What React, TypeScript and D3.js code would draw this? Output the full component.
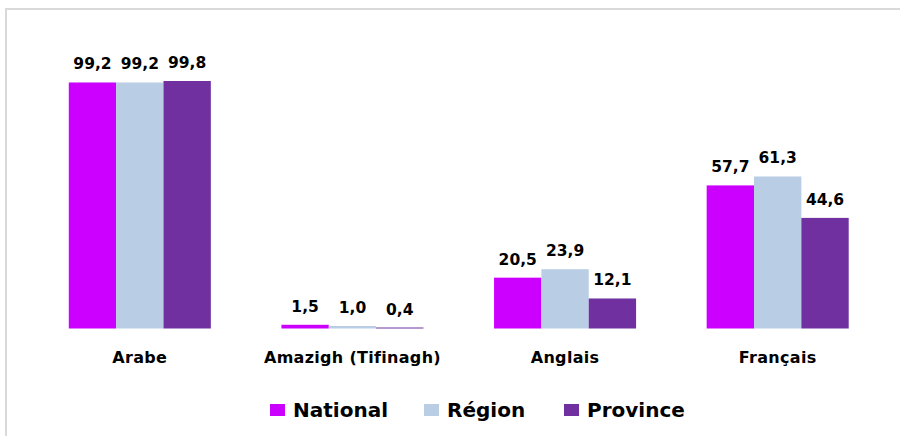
import * as d3 from 'd3';

const categories = ['Arabe', 'Amazigh (Tifinagh)', 'Anglais', 'Français'];
const seriesNames = ['National', 'Région', 'Province'];
const national = [99.2, 1.5, 20.5, 57.7];
const region = [99.2, 1.0, 23.9, 61.3];
const province = [99.8, 0.4, 12.1, 44.6];
const seriesColors = ['#CC00FF', '#B9CDE5', '#7030A0'];

const W = 900;
const H = 436;
const FONT = 'DejaVu Sans, Verdana, sans-serif';

export default function App() {
  const values = [national, region, province];

  const x = d3.scaleBand<string>()
    .domain(categories)
    .range([33.5, 884])
    .paddingInner(0.332)
    .paddingOuter(0.166);

  const xs = d3.scaleBand<string>()
    .domain(seriesNames)
    .range([0, x.bandwidth()]);

  const y = d3.scaleLinear().domain([0, 100]).range([328.5, 80.5]);

  const fmt = (v: number) => v.toFixed(1).replace('.', ',');

  const legendX = [270, 424, 564];

  return (
    <svg width={W} height={H} style={{ position: 'absolute', left: 0, top: 0, background: '#fff' }}>
      {/* frame: top and left edges only */}
      <line x1={5} y1={9} x2={W} y2={9} stroke="#d9d9d9" strokeWidth={2} />
      <line x1={6} y1={8} x2={6} y2={H} stroke="#d9d9d9" strokeWidth={2} />

      {categories.map((cat, ci) => (
        <g key={cat} transform={`translate(${x(cat)},0)`}>
          {seriesNames.map((s, si) => {
            const v = values[si][ci];
            const bx = xs(s) ?? 0;
            return (
              <g key={s}>
                <rect
                  x={bx}
                  y={y(v)}
                  width={xs.bandwidth()}
                  height={y(0) - y(v)}
                  fill={seriesColors[si]}
                />
                <text
                  x={bx + xs.bandwidth() / 2}
                  y={y(v) - 13}
                  textAnchor="middle"
                  fontFamily={FONT}
                  fontSize={15.5}
                  fontWeight="bold"
                  fill="#000"
                >
                  {fmt(v)}
                </text>
              </g>
            );
          })}
          <text
            x={x.bandwidth() / 2}
            y={363}
            textAnchor="middle"
            fontFamily={FONT}
            fontSize={16}
            fontWeight="bold"
            letterSpacing={0.3}
            fill="#000"
          >
            {cat}
          </text>
        </g>
      ))}

      {/* legend */}
      {seriesNames.map((s, si) => (
        <g key={s} transform={`translate(${legendX[si]},0)`}>
          <rect x={0} y={404} width={15} height={12} fill={seriesColors[si]} />
          <text x={23} y={417} fontFamily={FONT} fontSize={20} fontWeight="bold" fill="#000">
            {s}
          </text>
        </g>
      ))}
    </svg>
  );
}
